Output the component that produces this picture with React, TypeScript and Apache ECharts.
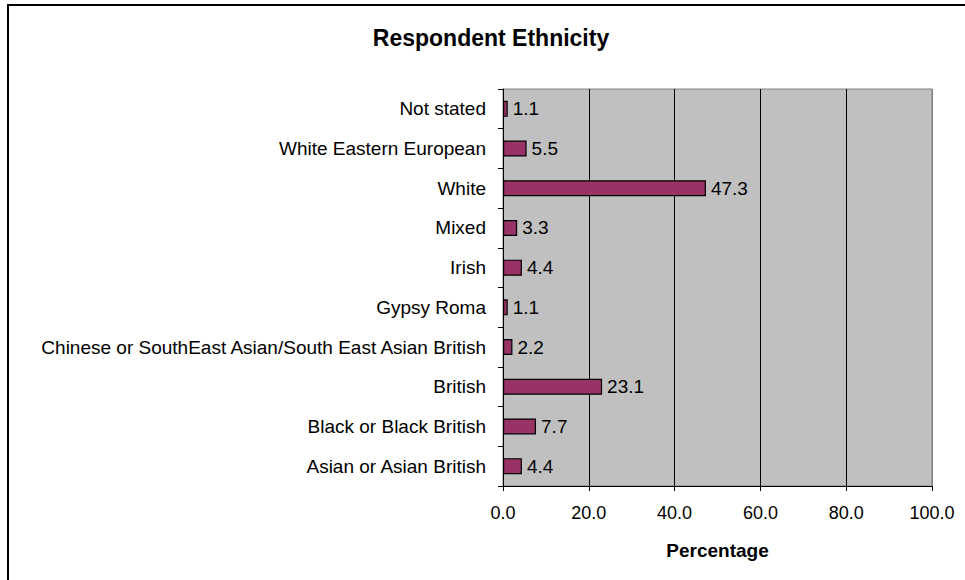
import React, { useEffect, useRef } from "react";
import * as echarts from "echarts";

const categories = [
  "Asian or Asian British",
  "Black or Black British",
  "British",
  "Chinese or SouthEast Asian/South East Asian British",
  "Gypsy Roma",
  "Irish",
  "Mixed",
  "White",
  "White Eastern European",
  "Not stated",
];
const values = [4.4, 7.7, 23.1, 2.2, 1.1, 4.4, 3.3, 47.3, 5.5, 1.1];
const xMin = 0;
const xMax = 100;
const xInterval = 20;
const titleText = "Respondent Ethnicity";
const xAxisName = "Percentage";

const FONT = "'Liberation Sans', Arial, sans-serif";

export default function App() {
  const ref = useRef<HTMLDivElement>(null);
  useEffect(() => {
    if (!ref.current) return;
    const chart = echarts.init(ref.current, null, { renderer: "svg" });
    chart.setOption({
      animation: false,
      backgroundColor: "#ffffff",
      graphic: [
        {
          type: "rect",
          shape: { x: 8, y: 5, width: 1000, height: 700 },
          style: { fill: "none", stroke: "#000", lineWidth: 2 },
          silent: true,
        },
        {
          type: "text",
          x: 491,
          y: 38,
          style: {
            text: titleText,
            font: `bold 23px ${FONT}`,
            fill: "#000",
            align: "center",
            verticalAlign: "middle",
          },
        },
      ],
      grid: {
        left: 503,
        top: 89,
        right: 33,
        bottom: 94,
        containLabel: false,
        show: true,
        backgroundColor: "#C0C0C0",
        borderColor: "#808080",
        borderWidth: 1,
      },
      xAxis: {
        type: "value",
        min: xMin,
        max: xMax,
        interval: xInterval,
        name: xAxisName,
        nameLocation: "middle",
        nameGap: 55,
        nameTextStyle: { fontFamily: FONT, fontWeight: "bold", fontSize: 19, color: "#000" },
        axisLine: { show: true, lineStyle: { color: "#000", width: 1 } },
        axisTick: { show: true, length: 5, lineStyle: { color: "#000" } },
        axisLabel: {
          fontFamily: FONT,
          fontSize: 18,
          color: "#000",
          margin: 18,
          formatter: (v: number) => v.toFixed(1),
        },
        splitLine: {
          show: true,
          lineStyle: {
            color: ["#000", "#000", "#000", "#000", "#000", "#808080"],
            width: 1,
          },
        },
      },
      yAxis: {
        type: "category",
        data: categories,
        axisLine: { show: true, lineStyle: { color: "#000", width: 1 } },
        axisTick: { show: true, length: 5, lineStyle: { color: "#000" } },
        axisLabel: {
          fontFamily: FONT,
          fontSize: 19,
          color: "#000",
          margin: 17,
        },
        splitLine: { show: false },
      },
      series: [
        {
          type: "bar",
          data: values,
          barWidth: 16,
          itemStyle: { color: "#993366", borderColor: "#000", borderWidth: 1.2 },
          label: {
            show: true,
            position: "right",
            distance: 5,
            fontFamily: FONT,
            fontSize: 19,
            color: "#000",
            formatter: (p: any) => Number(p.value).toFixed(1),
          },
        },
      ],
    });
    return () => chart.dispose();
  }, []);
  return (
    <div
      ref={ref}
      style={{ position: "absolute", left: 0, top: 0, width: 965, height: 580 }}
    />
  );
}
